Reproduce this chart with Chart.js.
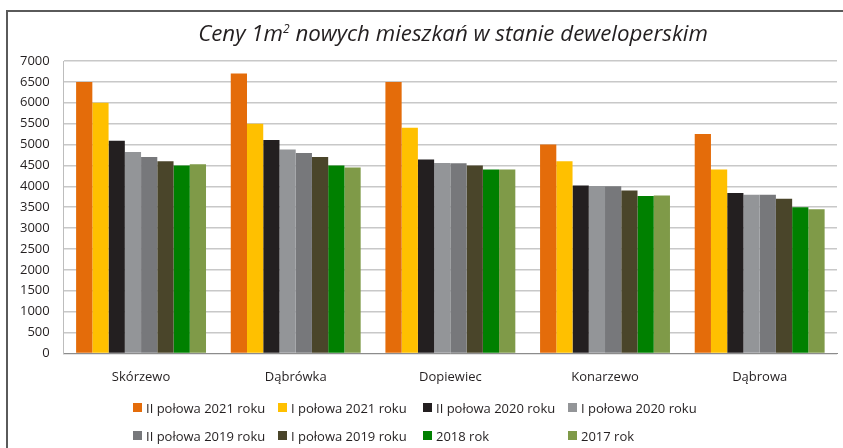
<!DOCTYPE html>
<html>
<head>
<meta charset="utf-8">
<script src="https://cdn.jsdelivr.net/npm/chart.js@4"></script>
<style>
    html, body { margin: 0; padding: 0; background: #fff; overflow: hidden; }
    #wrap { position: relative; width: 843px; height: 448px; }
    #frame { position: absolute; left: 6px; top: 10px; width: 900px; height: 500px; border: 2px solid #5a5a5a; box-sizing: border-box; }
    #title { position: absolute; top: 17px; left: 453px; transform: translateX(-50%); white-space: nowrap;
             font-family: 'Open Sans', sans-serif; font-style: italic; font-size: 22.3px; color: #231f20; }
    #title sup { font-size: 12px; }
    #legend { position: absolute; left: 133px; top: 398px; display: grid; grid-template-columns: repeat(4, 145px);
              row-gap: 9px; font-family: 'Open Sans', sans-serif; font-size: 13px; color: #231f20; }
    #legend span.item { display: flex; align-items: center; white-space: nowrap; height: 19px; }
    #legend i { display: inline-block; width: 9px; height: 9px; margin-right: 4px; }
    canvas { position: absolute; left: 0; top: 0; }
</style>
</head>
<body>
<div id="wrap">
    <div id="frame"></div>
    <canvas id="chart" width="843" height="448"></canvas>
    <div id="title">Ceny 1m<sup>2</sup> nowych mieszkań w stanie deweloperskim</div>
    <div id="legend"></div>
</div>
<script>
// Categories
const categories = ['Skórzewo', 'Dąbrówka', 'Dopiewiec', 'Konarzewo', 'Dąbrowa'];

// Series names
const seriesNames = [
    'II połowa 2021 roku', 'I połowa 2021 roku', 'II połowa 2020 roku', 'I połowa 2020 roku',
    'II połowa 2019 roku', 'I połowa 2019 roku', '2018 rok', '2017 rok'
];

// Values per series
const h2_2021 = [6500, 6700, 6500, 5000, 5250];
const h1_2021 = [6000, 5500, 5400, 4600, 4400];
const h2_2020 = [5090, 5110, 4640, 4020, 3840];
const h1_2020 = [4820, 4880, 4560, 4010, 3800];
const h2_2019 = [4700, 4800, 4550, 4000, 3800];
const h1_2019 = [4600, 4700, 4500, 3900, 3700];
const y2018 = [4500, 4500, 4400, 3770, 3500];
const y2017 = [4530, 4450, 4400, 3780, 3450];

const seriesValues = [h2_2021, h1_2021, h2_2020, h1_2020, h2_2019, h1_2019, y2018, y2017];
const seriesColors = ['#e46c0a', '#ffc000', '#231f20', '#939598', '#77787b', '#4a452a', '#008000', '#7f9a48'];

// Y axis ticks
const yMin = 0;
const yMax = 7000;
const yStep = 500;

const datasets = seriesNames.map((name, i) => ({
    label: name,
    data: seriesValues[i],
    backgroundColor: seriesColors[i],
    borderWidth: 0,
    categoryPercentage: 0.84,
    barPercentage: 1.0
}));

const ctx = document.getElementById('chart').getContext('2d');
new Chart(ctx, {
    type: 'bar',
    data: { labels: categories, datasets: datasets },
    options: {
        responsive: false,
        animation: false,
        layout: { padding: { left: 6, right: 6, top: 61, bottom: 55 } },
        plugins: {
            legend: { display: false },
            title: { display: false },
            tooltip: { enabled: false }
        },
        scales: {
            x: {
                grid: { display: false },
                border: { color: '#8c8c8c', width: 1 },
                ticks: {
                    color: '#231f20',
                    padding: 8,
                    font: { family: "'Open Sans', sans-serif", size: 13 }
                }
            },
            y: {
                min: yMin,
                max: yMax,
                grid: { color: '#c8c8c8', lineWidth: 1.5, drawTicks: false },
                border: { display: true, color: '#bdbdbd', width: 1 },
                ticks: {
                    stepSize: yStep,
                    color: '#231f20',
                    padding: 14,
                    font: { family: "'Open Sans', sans-serif", size: 13 },
                    callback: (v) => String(v)
                }
            }
        }
    }
});

// HTML legend built from the series arrays
const legend = document.getElementById('legend');
seriesNames.forEach((name, i) => {
    const item = document.createElement('span');
    item.className = 'item';
    const box = document.createElement('i');
    box.style.background = seriesColors[i];
    item.appendChild(box);
    item.appendChild(document.createTextNode(name));
    legend.appendChild(item);
});
</script>
</body>
</html>
